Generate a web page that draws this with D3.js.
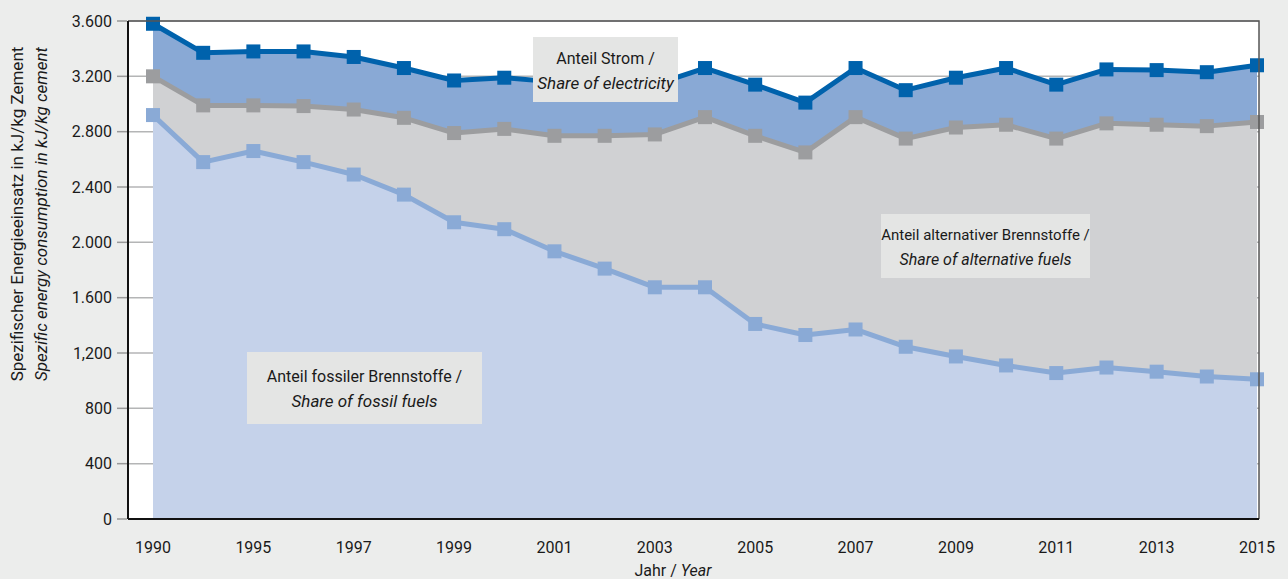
<!DOCTYPE html>
<html>
<head>
<meta charset="utf-8">
<script src="https://cdn.jsdelivr.net/npm/d3@7"></script>
<style>
  body { margin: 0; background: #ecedec; }
  svg { display: block; font-family: "Liberation Sans Narrow", "Arial Narrow", "Roboto", sans-serif; }
</style>
</head>
<body>
<svg id="chart" width="1288" height="579"></svg>
<script>
// years on the x axis (the second point is unlabelled)
var years = [1990, 1994, 1995, 1996, 1997, 1998, 1999, 2000, 2001, 2002, 2003, 2004,
             2005, 2006, 2007, 2008, 2009, 2010, 2011, 2012, 2013, 2014, 2015]
var yearLabels = [1990, 1995, 1997, 1999, 2001, 2003, 2005, 2007, 2009, 2011, 2013, 2015]

// total energy (top line, incl. electricity)
var total = [3580, 3370, 3380, 3380, 3340, 3260, 3170, 3190, 3160, 3150, 3140, 3260,
             3140, 3010, 3260, 3100, 3190, 3260, 3140, 3250, 3245, 3230, 3280]
// fossil + alternative fuels
var fuels = [3200, 2990, 2990, 2985, 2960, 2900, 2790, 2820, 2770, 2770, 2780, 2905,
             2770, 2650, 2905, 2750, 2830, 2850, 2750, 2860, 2850, 2840, 2870]
// fossil fuels only
var fossil = [2920, 2580, 2660, 2580, 2490, 2345, 2145, 2095, 1935, 1810, 1675, 1675,
              1410, 1330, 1370, 1245, 1175, 1110, 1055, 1095, 1065, 1030, 1010]

var yTicks = [0, 400, 800, 1200, 1600, 2000, 2400, 2800, 3200, 3600]
var yTickLabels = ["0", "400", "800", "1,200", "1.600", "2.000", "2.400", "2.800", "3.200", "3.600"]

window.onload = () => {
  draw_chart()
}

function draw_chart(){
  var svg = d3.select("#chart")
  var margin = {top: 21, left: 128, right: 29, bottom: 60}
  var width = 1288 - margin.left - margin.right,
      height = 579 - margin.top - margin.bottom   // 498

  var g = svg.append("g")
    .attr("transform", "translate(" + margin.left + "," + margin.top + ")")

  // white plot background
  g.append("rect")
    .attr("width", width).attr("height", height)
    .attr("fill", "white")

  var x = d3.scalePoint()
    .domain(years)
    .range([25, width - 2])

  var y = d3.scaleLinear()
    .domain([0, 3600])
    .range([height, 0])

  // gridlines
  g.append("g")
    .selectAll("line")
    .data(yTicks.slice(1))
    .enter().append("line")
      .attr("x1", 0).attr("x2", width)
      .attr("y1", d => y(d)).attr("y2", d => y(d))
      .attr("stroke", "#b4b5b6")
      .attr("stroke-width", 1.5)

  var idx = d3.range(years.length)

  // areas: total first, then fuels, then fossil on top
  var layers = [
    {vals: total, fill: "#89a9d5", line: "#0062ac"},
    {vals: fuels, fill: "#d0d1d3", line: "#9c9d9f"},
    {vals: fossil, fill: "#c5d2ea", line: "#8aaad6"}
  ]

  layers.forEach(function(l){
    g.append("path")
      .datum(idx)
      .attr("fill", l.fill)
      .attr("d", d3.area()
        .x(i => x(years[i]))
        .y0(y(0))
        .y1(i => y(l.vals[i])))
  })

  // lines and square markers, bottom layer first
  layers.slice().reverse().forEach(function(l){
    g.append("path")
      .datum(idx)
      .attr("fill", "none")
      .attr("stroke", l.line)
      .attr("stroke-width", 5)
      .attr("stroke-linejoin", "round")
      .attr("d", d3.line()
        .x(i => x(years[i]))
        .y(i => y(l.vals[i])))
    g.append("g")
      .selectAll("rect")
      .data(idx)
      .enter().append("rect")
        .attr("x", i => x(years[i]) - 7)
        .attr("y", i => y(l.vals[i]) - 7)
        .attr("width", 14).attr("height", 14)
        .attr("fill", l.line)
  })

  // frame: top and right border
  g.append("path")
    .attr("d", "M0,0H" + width + "V" + height)
    .attr("fill", "none")
    .attr("stroke", "#555")
    .attr("stroke-width", 1.5)

  // y axis
  var yAxis = g.append("g")
  yAxis.append("line")
    .attr("x1", 0).attr("x2", 0).attr("y1", 0).attr("y2", height)
    .attr("stroke", "#111").attr("stroke-width", 2)
  yAxis.selectAll("line.tick")
    .data(yTicks)
    .enter().append("line")
      .attr("class", "tick")
      .attr("x1", -11).attr("x2", -1)
      .attr("y1", d => y(d)).attr("y2", d => y(d))
      .attr("stroke", "#999").attr("stroke-width", 1.5)
  yAxis.selectAll("text")
    .data(yTicks)
    .enter().append("text")
      .attr("x", -16)
      .attr("y", d => y(d))
      .attr("dy", "0.35em")
      .attr("text-anchor", "end")
      .attr("font-size", 16)
      .attr("fill", "#1a1a1a")
      .text((d, i) => yTickLabels[i])

  // x axis
  g.append("line")
    .attr("x1", 0).attr("x2", width)
    .attr("y1", height).attr("y2", height)
    .attr("stroke", "#111").attr("stroke-width", 2)
  g.append("g")
    .selectAll("text")
    .data(yearLabels)
    .enter().append("text")
      .attr("x", d => x(d))
      .attr("y", height + 34)
      .attr("text-anchor", "middle")
      .attr("font-size", 16)
      .attr("fill", "#1a1a1a")
      .text(d => d)

  // axis titles
  var xt = svg.append("text")
    .attr("x", 673).attr("y", 576)
    .attr("text-anchor", "middle")
    .attr("font-size", 16)
    .attr("fill", "#1a1a1a")
  xt.append("tspan").text("Jahr / ")
  xt.append("tspan").attr("font-style", "italic").text("Year")

  var yt = svg.append("g")
    .attr("transform", "translate(23,214) rotate(-90)")
  yt.append("text")
    .attr("text-anchor", "middle")
    .attr("font-size", 17)
    .attr("fill", "#1a1a1a")
    .text("Spezifischer Energieeinsatz in kJ/kg Zement")
  yt.append("text")
    .attr("y", 24)
    .attr("text-anchor", "middle")
    .attr("font-size", 17)
    .attr("font-style", "italic")
    .attr("fill", "#1a1a1a")
    .text("Spezific energy consumption in kJ/kg cement")

  // label boxes
  var boxes = [
    {x: 533, y: 37, w: 145, h: 65, a: "Anteil Strom /", b: "Share of electricity", fs: 16},
    {x: 881, y: 214, w: 209, h: 64, a: "Anteil alternativer Brennstoffe /", b: "Share of alternative fuels", fs: 15},
    {x: 247, y: 352, w: 235, h: 72, a: "Anteil fossiler Brennstoffe /", b: "Share of fossil fuels", fs: 16}
  ]
  boxes.forEach(function(b){
    svg.append("rect")
      .attr("x", b.x).attr("y", b.y)
      .attr("width", b.w).attr("height", b.h)
      .attr("fill", "#e4e5e4")
    svg.append("text")
      .attr("x", b.x + b.w / 2).attr("y", b.y + b.h / 2 - 6)
      .attr("text-anchor", "middle")
      .attr("font-size", b.fs)
      .attr("fill", "#1a1a1a")
      .text(b.a)
    svg.append("text")
      .attr("x", b.x + b.w / 2).attr("y", b.y + b.h / 2 + 19)
      .attr("text-anchor", "middle")
      .attr("font-size", b.fs + 1)
      .attr("font-style", "italic")
      .attr("fill", "#1a1a1a")
      .text(b.b)
  })
}
</script>
</body>
</html>
